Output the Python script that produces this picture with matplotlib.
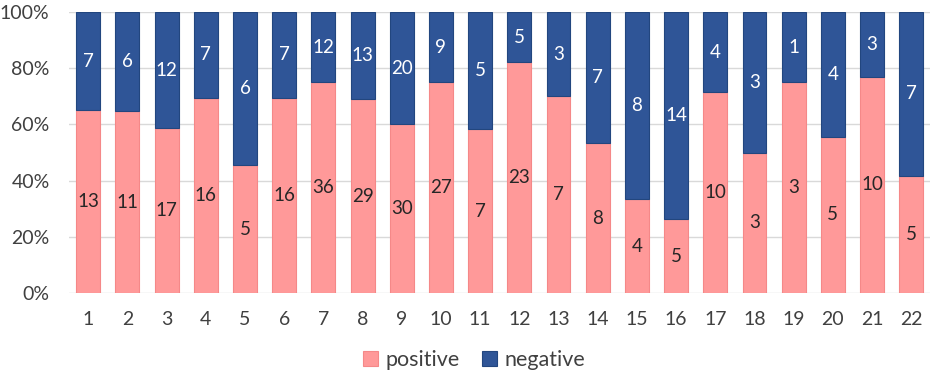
import matplotlib.pyplot as plt
import numpy as np
from matplotlib.ticker import PercentFormatter

plt.rcParams['font.family'] = ['Lato', 'DejaVu Sans']

categories = [str(i) for i in range(1, 23)]
positive = [13, 11, 17, 16, 5, 16, 36, 29, 30, 27, 7, 23, 7, 8, 4, 5, 10, 3, 3, 5, 10, 5]
negative = [7, 6, 12, 7, 6, 7, 12, 13, 20, 9, 5, 5, 3, 7, 8, 14, 4, 3, 1, 4, 3, 7]

pos = np.array(positive, dtype=float)
neg = np.array(negative, dtype=float)
total = pos + neg
pos_frac = pos / total
neg_frac = neg / total
x = np.arange(len(categories))

fig = plt.figure(figsize=(9.35, 3.76), dpi=100)
ax = fig.add_axes([0.0738, 0.2207, 0.9209, 0.7473])

pink = '#FF9999'
blue = '#2F5597'
bw = 0.61
ax.bar(x, pos_frac, width=bw, color=pink, edgecolor='#F58888', linewidth=0.8, label='positive', zorder=2)
ax.bar(x, neg_frac, width=bw, bottom=pos_frac, color=blue, edgecolor='#22467F', linewidth=0.8, label='negative', zorder=2)

for i in x:
    ax.text(i, pos_frac[i] / 2, str(positive[i]), ha='center', va='center', fontsize=13.5, color='#262626', zorder=3)
    ax.text(i, pos_frac[i] + neg_frac[i] / 2, str(negative[i]), ha='center', va='center', fontsize=13.5, color='white', zorder=3)

ax.set_xlim(-0.49, len(categories) - 0.52)
ax.set_ylim(0, 1)
ax.set_yticks(np.arange(0, 1.01, 0.2))
ax.yaxis.set_major_formatter(PercentFormatter(1.0, decimals=0))
ax.set_xticks(x)
ax.set_xticklabels(categories)
ax.grid(axis='y', color='#D9D9D9', linewidth=1, zorder=0)
for s in ax.spines.values():
    s.set_visible(False)
ax.tick_params(axis='both', length=0, labelsize=14, colors='#404040')
ax.tick_params(axis='x', pad=13)
ax.tick_params(axis='y', pad=14)

fig.legend(loc='center', bbox_to_anchor=(0.507, 0.043), ncol=2, frameon=False,
           fontsize=15.5, handlelength=0.7, handleheight=0.7, handletextpad=0.35, columnspacing=1.0,
           labelcolor='#404040', borderpad=0)

fig.savefig('out.png', dpi=100)
